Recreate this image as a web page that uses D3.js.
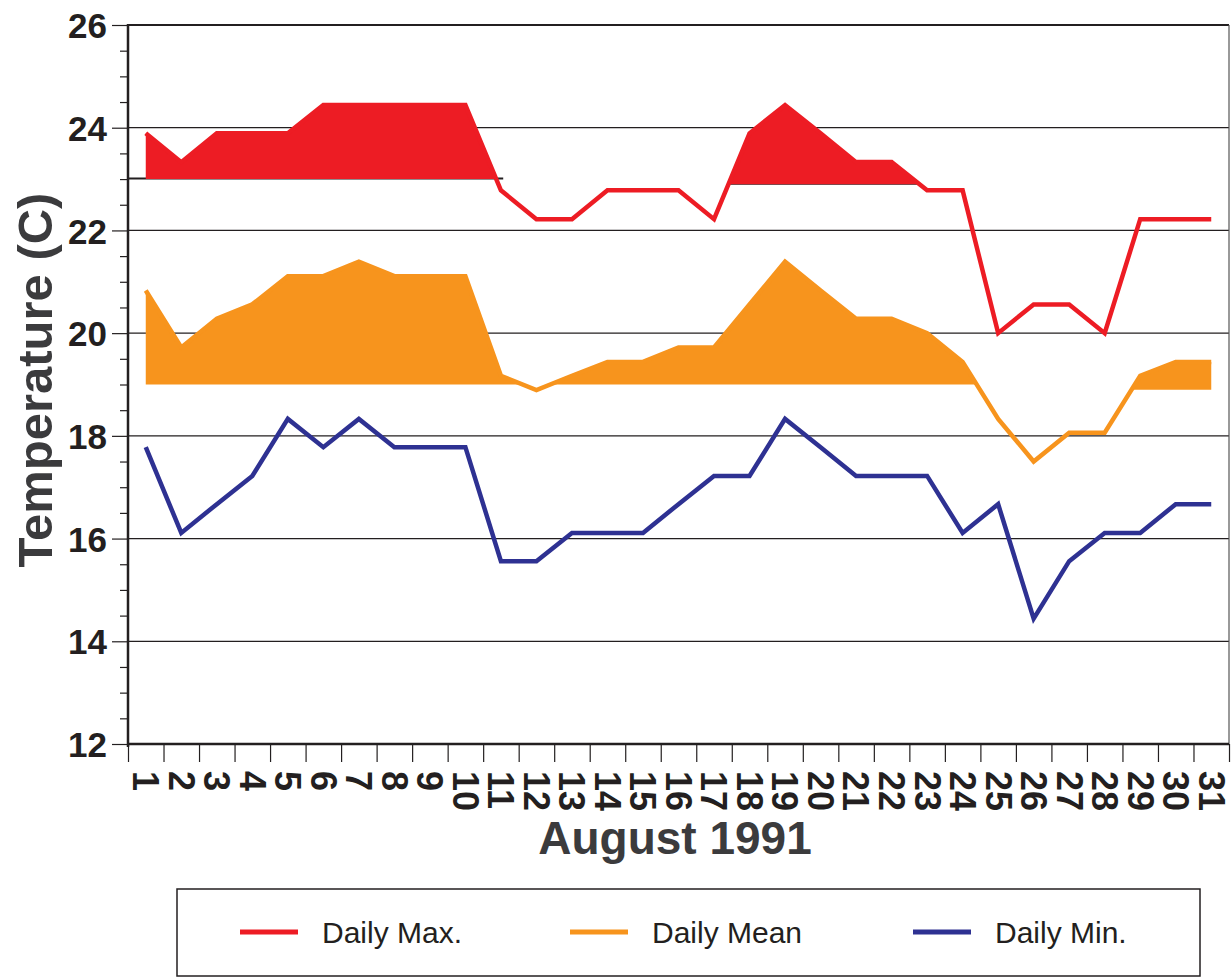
<!DOCTYPE html>
<html>
<head>
<meta charset="utf-8">
<script src="https://cdn.jsdelivr.net/npm/d3@7"></script>
<style>
  body { margin: 0; background: #fff; }
  text { font-family: "Liberation Sans", Arial, sans-serif; }
</style>
</head>
<body>
<script>

// Data (deg C, August 1991)
var days = [1, 2, 3, 4, 5, 6, 7, 8, 9, 10, 11, 12, 13, 14, 15, 16,
    17, 18, 19, 20, 21, 22, 23, 24, 25, 26, 27, 28, 29, 30, 31];

var dailyMax = [23.89, 23.33, 23.89, 23.89, 23.89, 24.44, 24.44, 24.44, 24.44, 24.44,
    22.78, 22.22, 22.22, 22.78, 22.78, 22.78, 22.22, 23.89, 24.44, 23.89,
    23.33, 23.33, 22.78, 22.78, 20.00, 20.56, 20.56, 20.00, 22.22, 22.22, 22.22];

var dailyMean = [20.83, 19.72, 20.28, 20.56, 21.11, 21.11, 21.39, 21.11, 21.11, 21.11,
    19.17, 18.89, 19.17, 19.44, 19.44, 19.72, 19.72, 20.56, 21.39, 20.83,
    20.28, 20.28, 20.00, 19.44, 18.33, 17.50, 18.06, 18.06, 19.17, 19.44, 19.44];

var dailyMin = [17.78, 16.11, 16.67, 17.22, 18.33, 17.78, 18.33, 17.78, 17.78, 17.78,
    15.56, 15.56, 16.11, 16.11, 16.11, 16.67, 17.22, 17.22, 18.33, 17.78,
    17.22, 17.22, 17.22, 16.11, 16.67, 14.44, 15.56, 16.11, 16.11, 16.67, 16.67];

// shaded stretches: [first day, last day, base value]
var maxShading = [[1, 11, 23.0], [17, 23, 22.9]];
var meanShading = [[1, 12, 19.0], [12, 25, 19.0], [28, 31, 18.9]];

var yTicks = [12, 14, 16, 18, 20, 22, 24, 26];

var seriesNames = ["Daily Max.", "Daily Mean", "Daily Min."];

var colors = { max: "#ED1C24", mean: "#F7941D", min: "#2E3192" };
var ink = "#231F20";

var svgWidth = 1231;
var svgHeight = 977;

var svg = d3.select("body")
    .append("svg")
    .attr("width", svgWidth)
    .attr("height", svgHeight);

// plot box
var plotLeft = 128, plotRight = 1229, plotTop = 25, plotBottom = 744;

var x = d3.scaleLinear()
    .domain([0.5, 31.5])
    .range([plotLeft, plotRight]);

var y = d3.scaleLinear()
    .domain([12, 26])
    .range([plotBottom, plotTop]);

// gridlines
svg.append("g")
    .selectAll("line")
    .data(yTicks.filter(d => d > 12 && d < 26))
    .enter()
    .append("line")
    .attr("x1", plotLeft)
    .attr("x2", plotRight)
    .attr("y1", d => y(d))
    .attr("y2", d => y(d))
    .attr("stroke", ink)
    .attr("stroke-width", 1.2);

// top and right border
svg.append("line")
    .attr("x1", plotLeft).attr("x2", plotRight)
    .attr("y1", y(26)).attr("y2", y(26))
    .attr("stroke", ink).attr("stroke-width", 2);

svg.append("line")
    .attr("x1", plotRight).attr("x2", plotRight)
    .attr("y1", y(26)).attr("y2", y(12))
    .attr("stroke", "#555").attr("stroke-width", 1.2);

// y axis: major ticks with labels, minor ticks every 0.5
var yAxis = d3.axisLeft(y)
    .tickValues(yTicks)
    .tickSize(16)
    .tickPadding(5)
    .tickFormat(d3.format("d"));

var yAxisG = svg.append("g")
    .attr("transform", `translate(${plotLeft}, 0)`)
    .call(yAxis);

yAxisG.select(".domain").remove();
yAxisG.selectAll(".tick line").attr("stroke", ink).attr("stroke-width", 1.2);
yAxisG.selectAll(".tick text")
    .attr("fill", ink)
    .attr("font-size", "35px")
    .attr("font-weight", "bold")
    .attr("dy", "0.36em");

var yMinor = d3.axisLeft(y)
    .tickValues(d3.range(12, 26.01, 0.5).filter(d => d % 2 !== 0))
    .tickSize(8)
    .tickFormat("");

var yMinorG = svg.append("g")
    .attr("transform", `translate(${plotLeft}, 0)`)
    .call(yMinor);
yMinorG.select(".domain").remove();
yMinorG.selectAll(".tick line").attr("stroke", ink).attr("stroke-width", 1.2);

// x axis: ticks between days, labels rotated
var xAxisG = svg.append("g")
    .attr("transform", `translate(0, ${plotBottom})`)
    .call(d3.axisBottom(x)
        .tickValues(d3.range(0.5, 31.6, 1))
        .tickSize(18)
        .tickFormat(""));
xAxisG.select(".domain").remove();
xAxisG.selectAll(".tick line").attr("stroke", ink).attr("stroke-width", 1.2);

svg.append("g")
    .selectAll("text")
    .data(days)
    .enter()
    .append("text")
    .attr("transform", d => `translate(${x(d)}, 771) rotate(90)`)
    .attr("dy", "0.35em")
    .attr("font-size", "36px")
    .attr("font-weight", "bold")
    .attr("fill", ink)
    .text(d => d);

// shaded areas between each line and its base value
function shadePoints(vals, from, to, base) {
    var pts = [];
    for (var d = from; d < to; d++) {
        var a = vals[d - 1], b = vals[d];
        if (a >= base) pts.push({ d: d, v: a });
        if ((a - base) * (b - base) < 0) {
            pts.push({ d: d + (base - a) / (b - a), v: base });
        }
    }
    if (vals[to - 1] >= base) pts.push({ d: to, v: vals[to - 1] });
    return pts;
}

function drawShading(vals, shading, color, edge) {
    shading.forEach(function (s) {
        var pts = shadePoints(vals, s[0], s[1], s[2]);
        if (edge) {
            // dark base line, mostly hidden under the fill
            svg.append("line")
                .attr("x1", x(pts[0].d) - (s[0] === 1 ? 17 : 0))
                .attr("x2", x(pts[pts.length - 1].d) + (s[0] === 1 ? 7 : 0))
                .attr("y1", y(s[2]) - 0.5)
                .attr("y2", y(s[2]) - 0.5)
                .attr("stroke", ink)
                .attr("stroke-width", 2);
        }
        var area = d3.area()
            .x(p => x(p.d))
            .y0(y(s[2]))
            .y1(p => y(p.v));
        svg.append("path")
            .datum(pts)
            .attr("d", area)
            .attr("fill", color);
    });
}

drawShading(dailyMax, maxShading, colors.max, true);
drawShading(dailyMean, meanShading, colors.mean, false);

// lines
var line = d3.line()
    .x((v, i) => x(days[i]))
    .y(v => y(v));

[[dailyMax, colors.max], [dailyMean, colors.mean], [dailyMin, colors.min]].forEach(function (s) {
    svg.append("path")
        .datum(s[0])
        .attr("d", line)
        .attr("fill", "none")
        .attr("stroke", s[1])
        .attr("stroke-width", 4.5)
        .attr("stroke-linejoin", "miter");
});

// axis lines on top
svg.append("line")
    .attr("x1", plotLeft).attr("x2", plotLeft)
    .attr("y1", y(26) - 1).attr("y2", plotBottom + 3)
    .attr("stroke", ink).attr("stroke-width", 2.5);

svg.append("line")
    .attr("x1", plotLeft).attr("x2", plotRight)
    .attr("y1", plotBottom).attr("y2", plotBottom)
    .attr("stroke", ink).attr("stroke-width", 2.5);

// axis titles
svg.append("text")
    .attr("transform", `translate(52, 380) rotate(-90)`)
    .attr("text-anchor", "middle")
    .attr("font-size", "49px")
    .attr("font-weight", "bold")
    .attr("fill", "#3B3B3D")
    .text("Temperature (C)");

svg.append("text")
    .attr("x", 675)
    .attr("y", 854)
    .attr("text-anchor", "middle")
    .attr("font-size", "46px")
    .attr("font-weight", "bold")
    .attr("fill", "#3B3B3D")
    .text("August 1991");

// legend
var legend = svg.append("g");

legend.append("rect")
    .attr("x", 177)
    .attr("y", 889)
    .attr("width", 1023)
    .attr("height", 87)
    .attr("fill", "none")
    .attr("stroke", ink)
    .attr("stroke-width", 1.5);

var legendX = [240, 570, 913];
var legendColors = [colors.max, colors.mean, colors.min];

seriesNames.forEach(function (name, i) {
    legend.append("line")
        .attr("x1", legendX[i])
        .attr("x2", legendX[i] + 58)
        .attr("y1", 932)
        .attr("y2", 932)
        .attr("stroke", legendColors[i])
        .attr("stroke-width", 5);

    legend.append("text")
        .attr("x", legendX[i] + 82)
        .attr("y", 943)
        .attr("font-size", "30px")
        .attr("fill", ink)
        .text(name);
});

</script>
</body>
</html>
